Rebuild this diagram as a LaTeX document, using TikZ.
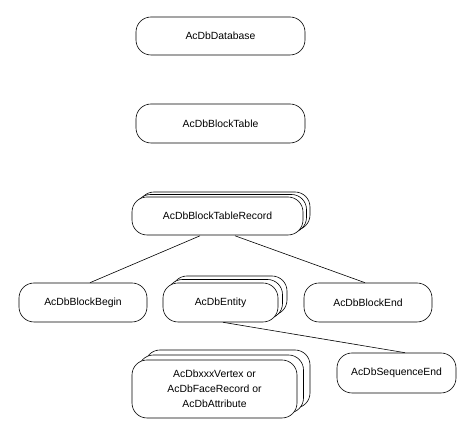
\documentclass[tikz,border=0pt]{standalone}
\usepackage{fontspec}
\setmainfont{Liberation Sans}
\begin{document}
\begin{tikzpicture}[x=1pt,y=-1pt,
  rec/.style={draw=black,line width=0.6pt,fill=white,rounded corners=15pt,
    font=\fontsize{10.4}{12}\selectfont,align=center,inner sep=0pt},
  link/.style={draw=black,line width=0.6pt}]
\useasboundingbox (0,0) rectangle (475,427);
% single boxes
\node[rec,minimum width=169pt,minimum height=38pt] (db) at (220.5,36) {AcDbDatabase};
\node[rec,minimum width=169pt,minimum height=39pt] (bt) at (220.5,123.5) {AcDbBlockTable};
% stacked BTR
\node[rec,minimum width=171pt,minimum height=38pt] (btr3) at (224.5,211) {};
\node[rec,minimum width=171pt,minimum height=38pt] (btr2) at (221,213.5) {};
\node[rec,minimum width=171pt,minimum height=38pt] (btr) at (217.5,216) {AcDbBlockTableRecord};
% row 3
\node[rec,minimum width=128pt,minimum height=39pt] (bb) at (83,302.5) {AcDbBlockBegin};
\node[rec,minimum width=115pt,minimum height=39pt] (ent3) at (229.5,295.5) {};
\node[rec,minimum width=115pt,minimum height=39pt] (ent2) at (225,299) {};
\node[rec,minimum width=115pt,minimum height=39pt] (ent) at (220.5,302.5) {AcDbEntity};
\node[rec,minimum width=128pt,minimum height=39pt] (be) at (368,302.5) {AcDbBlockEnd};
% row 4
\node[rec,minimum width=119pt,minimum height=40pt] (se) at (396.5,373) {AcDbSequenceEnd};
\node[rec,minimum width=165pt,minimum height=58pt] (vx3) at (227.5,379) {};
\node[rec,minimum width=165pt,minimum height=58pt] (vx2) at (221,384) {};
\node[rec,minimum width=165pt,minimum height=58pt,
  font=\fontsize{10.4}{15}\selectfont] (vx) at (214.5,389) {AcDbxxxVertex or\\AcDbFaceRecord or\\AcDbAttribute};
% connectors
\draw[link] ([xshift=-17.5pt,yshift=-0.5pt]btr.south) -- ([xshift=7pt]bb.north);
\draw[link] ([xshift=17.5pt,yshift=-0.5pt]btr.south) -- ([xshift=-3pt]be.north);
\draw[link] ([xshift=2.5pt]ent.south) -- ([xshift=8.5pt]se.north);
\end{tikzpicture}
\end{document}
